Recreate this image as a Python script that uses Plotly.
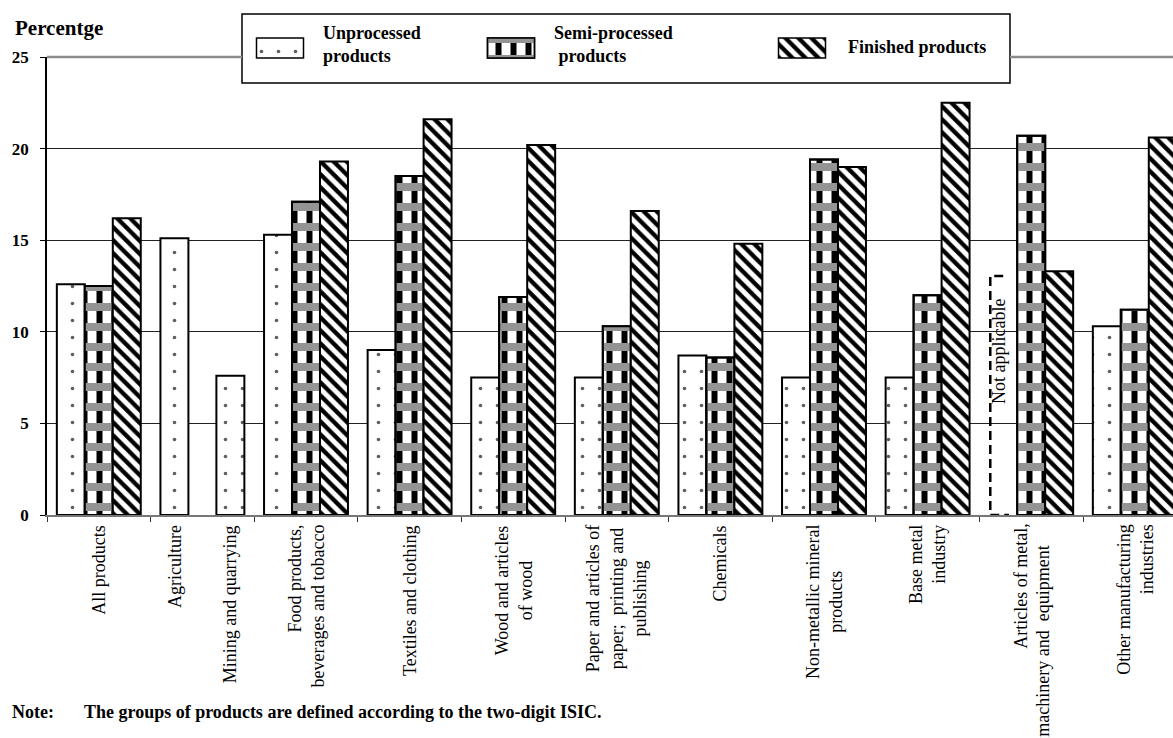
import plotly.graph_objects as go

# ---------------------------------------------------------------- data
sectors = [
    "All products", "Agriculture", "Mining and quarrying",
    "Food products, beverages and tobacco", "Textiles and clothing",
    "Wood and articles of wood",
    "Paper and articles of paper; printing and publishing",
    "Chemicals", "Non-metallic mineral products", "Base metal industry",
    "Articles of metal, machinery and equipment",
    "Other manufacturing industries",
]
unprocessed = [12.6, 15.1, 7.6, 15.3, 9.0, 7.5, 7.5, 8.7, 7.5, 7.5, None, 10.3]
semi_processed = [12.5, None, None, 17.1, 18.5, 11.9, 10.3, 8.6, 19.4, 12.0, 20.7, 11.2]
finished = [16.2, None, None, 19.3, 21.6, 20.2, 16.6, 14.8, 19.0, 22.5, 13.3, 20.6]

tick_labels = [
    "All products", "Agriculture", "Mining and quarrying",
    "Food products,<br>beverages and tobacco", "Textiles and clothing",
    "Wood and articles<br>of wood",
    "Paper and articles of<br>paper;  printing and<br>publishing",
    "Chemicals", "Non-metallic mineral<br>products", "Base metal<br>industry",
    "Articles of metal,<br>machinery and  equipment",
    "Other manufacturing<br>industries",
]
series_names = ["Unprocessed<br>products", "Semi-processed<br> products", "Finished products"]
y_ticks = [0, 5, 10, 15, 20, 25]

# ---------------------------------------------------------------- layout helpers
W, H = 1173, 738
PL, PT, PB = 47, 57, 515          # plot area edges in pixels (right edge = figure edge)
GROUP_PX = 103.6                  # width of one category slot in pixels
X_MAX = -0.5 + (W - PL) / GROUP_PX
BW = 0.27                         # width of a single bar (category units)
SERIF = "Liberation Serif"
OUTLINE = dict(color="black", width=2)


def fx(px):
    return px / W


def fy(py):
    return 1 - py / H


# Agriculture and mining share one category slot on the axis
axis_group = [0, 1, 1] + list(range(2, 11))
unp_slot, seen = [], set()
for g in axis_group:
    unp_slot.append(2 if g in seen else 0)
    seen.add(g)


def slot_x(g, k):
    return g + (k - 1) * BW


def pattern(shape, fg, bg, size, solidity):
    return dict(shape=shape, fgcolor=fg, bgcolor=bg, size=size, solidity=solidity,
                fillmode="replace", fgopacity=1)


unp_pat = pattern(".", "#5e5e5e", "white", 17, 0.035)
semi_base_pat = pattern("|", "black", "white", 15, 0.4)
semi_top_pat = pattern("-", "#949494", "rgba(0,0,0,0)", 20, 0.4)
fin_pat = pattern("\\", "black", "white", 9.2, 0.47)

fig = go.Figure()


def bars(xs, ys, pat, color="white", xa="x", ya="y", base=None, width=BW, line=OUTLINE):
    fig.add_trace(go.Bar(
        x=xs, y=ys, base=base, width=width, xaxis=xa, yaxis=ya,
        marker=dict(color=color, pattern=pat, line=line),
        showlegend=False, hoverinfo="skip",
    ))


def pick(values, slots):
    xs, ys = [], []
    for i, v in enumerate(values):
        if v is not None:
            xs.append(slot_x(axis_group[i], slots[i]))
            ys.append(v)
    return xs, ys


ux, uy = pick(unprocessed, unp_slot)
sx, sy = pick(semi_processed, [1] * len(sectors))
fx_, fy_ = pick(finished, [2] * len(sectors))

bars(ux, uy, unp_pat)
bars(sx, sy, semi_base_pat)
bars(sx, sy, semi_top_pat, color="rgba(0,0,0,0)")
bars(fx_, fy_, fin_pat)

# ---------------------------------------------------------------- legend (inset axes in pixel units)
LX0, LX1, LY0, LY1 = 242, 1010, 14, 83
SW_LINE = dict(color="black", width=1.5)
bars([(LX0 + LX1) / 2], [LY1 - LY0], dict(shape=""), xa="x2", ya="y2",
     base=[LY0], width=[LX1 - LX0], line=SW_LINE)
sw_x = [280, 511, 802]
sw_w = 47
bars([sw_x[0]], [20], unp_pat, xa="x2", ya="y2", base=[38], width=[sw_w], line=SW_LINE)
bars([sw_x[1]], [20], semi_base_pat, xa="x2", ya="y2", base=[38], width=[sw_w], line=SW_LINE)
bars([sw_x[1]], [20], semi_top_pat, color="rgba(0,0,0,0)", xa="x2", ya="y2", base=[38],
     width=[sw_w], line=SW_LINE)
bars([sw_x[2]], [20], fin_pat, xa="x2", ya="y2", base=[38], width=[sw_w], line=SW_LINE)

annotations = []
for xt, yt, txt in zip([321, 552, 846], [44, 44, 47], series_names):
    annotations.append(dict(
        x=xt, y=yt, xref="x2", yref="y2", text=txt.replace("<br> ", "<br>&nbsp;"),
        showarrow=False, xanchor="left", yanchor="middle", align="left",
        font=dict(family=SERIF, size=18, color="black", weight="bold"),
    ))

# ---------------------------------------------------------------- category labels
label_align = {5: "center", 6: "center", 8: "center"}
line_drop = {10: [0, 22]}
for i, text in enumerate(tick_labels):
    g = axis_group[i]
    shared = axis_group.count(g) > 1
    xpos = slot_x(g, unp_slot[i]) if shared else g
    base = dict(xref="x", yref="y", y=0, showarrow=False, textangle=-90,
                xanchor="center", yanchor="top",
                font=dict(family=SERIF, size=18, color="black"))
    if i in line_drop:
        lines = text.split("<br>")
        n = len(lines)
        for j, ln in enumerate(lines):
            annotations.append(dict(base, x=xpos, text=ln, align="right",
                                    xshift=(j - (n - 1) / 2) * 22,
                                    yshift=-7 - line_drop[i][j]))
    else:
        annotations.append(dict(base, x=xpos, text=text, yshift=-8,
                                align=label_align.get(i, "right")))

# "Not applicable" marker for the unprocessed slot of articles of metal
na_x0 = slot_x(10 - 1, 0) - BW / 2 + 0.01
annotations.append(dict(
    x=na_x0 + 0.085, y=8.9, xref="x", yref="y", text="Not applicable", textangle=-90,
    showarrow=False, xanchor="center", yanchor="middle",
    font=dict(family=SERIF, size=18, color="black"),
))

# axis title and note
annotations.append(dict(x=fx(13), y=fy(28), xref="paper", yref="paper", text="Percentge",
                        showarrow=False, xanchor="left", yanchor="middle",
                        font=dict(family=SERIF, size=21, color="black", weight="bold")))
annotations.append(dict(x=fx(10), y=fy(712), xref="paper", yref="paper", text="Note:",
                        showarrow=False, xanchor="left", yanchor="middle",
                        font=dict(family=SERIF, size=18, color="black", weight="bold")))
annotations.append(dict(x=fx(82), y=fy(712), xref="paper", yref="paper",
                        text="The groups of products are defined according to the two-digit ISIC.",
                        showarrow=False, xanchor="left", yanchor="middle",
                        font=dict(family=SERIF, size=18, color="black", weight="bold")))

shapes = [
    # dashed bracket
    dict(type="path", xref="x", yref="y",
         path=f"M {na_x0 + 0.125},13.05 L {na_x0},13.05 L {na_x0},0 L {na_x0 + 0.18},0",
         line=dict(color="black", width=2.5, dash="9px,5px"), layer="above"),
    # top frame line on either side of the legend box
    dict(type="line", xref="paper", yref="paper", x0=fx(PL), x1=fx(LX0), y0=fy(PT), y1=fy(PT),
         line=dict(color="#8c8c8c", width=2.5), layer="above"),
    dict(type="line", xref="paper", yref="paper", x0=fx(LX1), x1=1, y0=fy(PT), y1=fy(PT),
         line=dict(color="#8c8c8c", width=2.5), layer="above"),
]

fig.update_layout(
    width=W, height=H, autosize=False,
    margin=dict(l=0, r=0, t=0, b=0, autoexpand=False),
    paper_bgcolor="white", plot_bgcolor="white",
    barmode="overlay",
    showlegend=False,
    annotations=annotations,
    shapes=shapes,
    xaxis=dict(domain=[fx(PL), 1], range=[-0.5, X_MAX], showgrid=False, zeroline=False,
               showline=True, linecolor="#777777", linewidth=2, automargin=False,
               tickvals=[k - 0.5 for k in range(11)], ticks="outside", ticklen=5,
               tickcolor="#333333", showticklabels=False, fixedrange=True),
    yaxis=dict(domain=[fy(PB), fy(PT)], range=[0, 25], tickvals=y_ticks, automargin=False,
               showgrid=True, gridcolor="#222222", gridwidth=1, zeroline=False,
               showline=True, linecolor="black", linewidth=1.5,
               ticks="outside", ticklen=5, tickcolor="black", ticklabelstandoff=8,
               tickfont=dict(family=SERIF, size=17, color="black", weight="bold")),
    xaxis2=dict(domain=[fx(236), fx(1016)], range=[236, 1016], visible=False, anchor="y2",
                automargin=False),
    yaxis2=dict(domain=[fy(88), fy(9)], range=[88, 9], visible=False, anchor="x2",
                automargin=False),
)

fig.write_html("out.html")
